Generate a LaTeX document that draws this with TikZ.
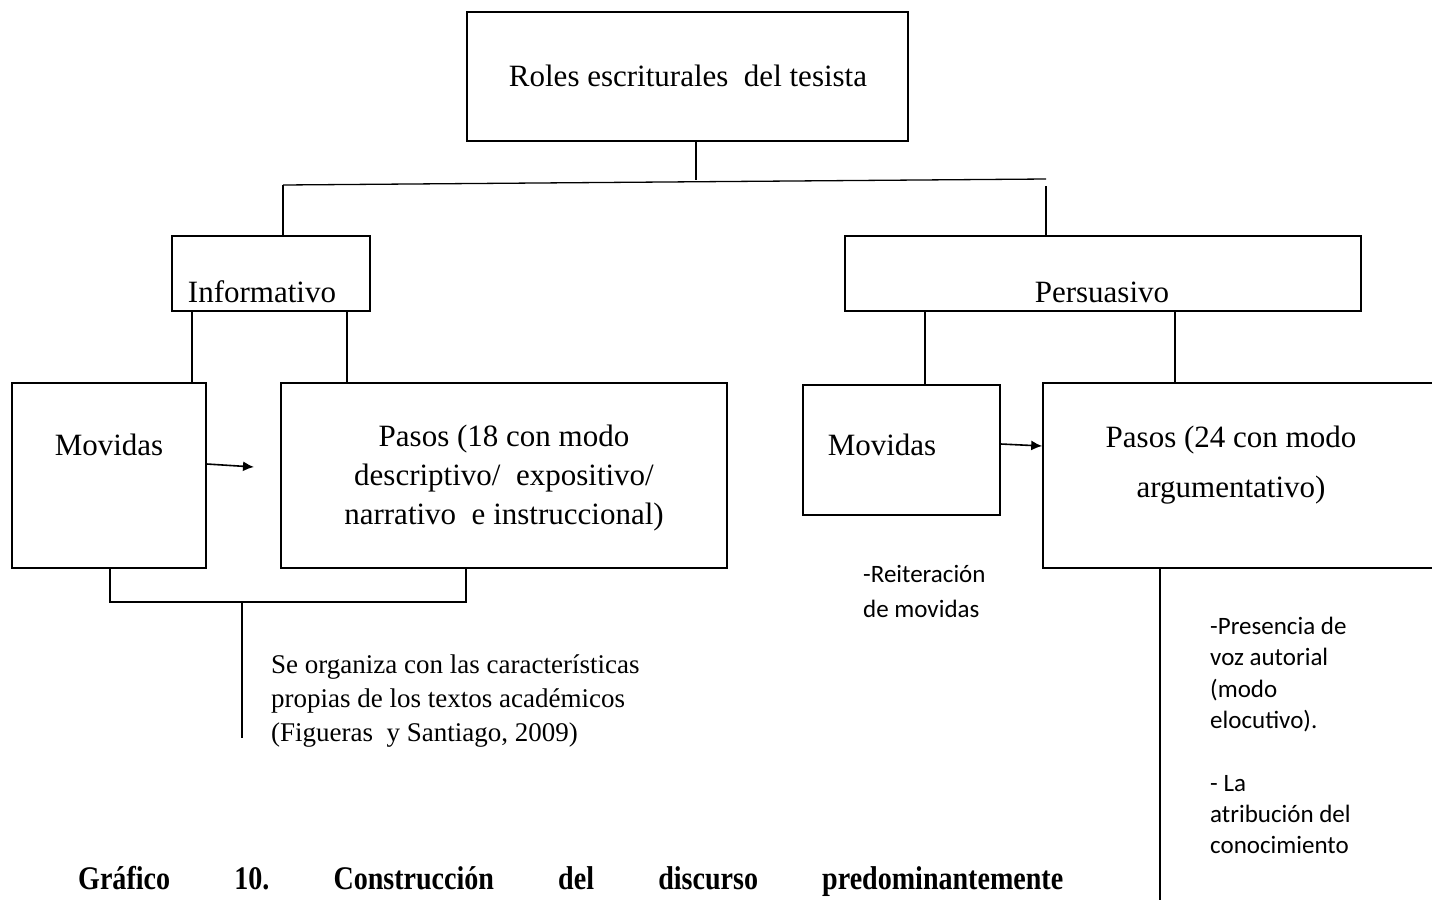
\documentclass[tikz,border=0pt]{standalone}
\usepackage{fontspec}
\setmainfont{Liberation Serif}
\newfontfamily\calib{Carlito}
\newfontfamily\capfont[FakeStretch=0.85]{Liberation Serif}
\usetikzlibrary{arrows.meta,calc}
\tikzset{
  box/.style={draw, line width=1.6pt, rectangle, inner sep=0pt},
  conn/.style={line width=1.3pt},
  arr/.style={line width=1.6pt, -{Latex[length=11pt,width=10pt]}},
  boxtxt/.style={font=\fontsize{31}{39}\selectfont, align=center, inner sep=0pt},
  lowtxt/.style={font=\fontsize{27}{34}\selectfont, align=left, inner sep=0pt, anchor=north west},
  sidetxt/.style={font=\calib\fontsize{25}{31.3}\selectfont, align=left, inner sep=0pt, anchor=north west},
}
\begin{document}
\begin{tikzpicture}[x=1pt,y=-1pt]
\useasboundingbox (0,0) rectangle (1432,900);
\fill[white] (0,0) rectangle (1432,900);

% boxes
\node[box, minimum width=441pt, minimum height=129pt] (top) at (687.5,76.5) {};
\node[boxtxt] (toptxt) at (688,76) {Roles escriturales\ \ del tesista};

\node[box, minimum width=198pt, minimum height=75pt] (inf) at (271,273.5) {};
\node[boxtxt] (inftxt) at (262,292) {Informativo};

\node[box, minimum width=516pt, minimum height=75pt] (per) at (1103,273.5) {};
\node[boxtxt] (pertxt) at (1102,292) {Persuasivo};

\node[box, minimum width=194pt, minimum height=185pt] (movL) at (109,475.5) {};
\node[boxtxt] (movLtxt) at (109,445) {Movidas};

\node[box, minimum width=446pt, minimum height=185pt] (pasL) at (504,475.5) {};
\node[boxtxt] (pasLtxt) at (504,478) {Pasos (18 con modo\\descriptivo/\ \ expositivo/\\narrativo\ \ e instruccional)};

\node[box, minimum width=197pt, minimum height=130pt] (movR) at (901.5,450) {};
\node[boxtxt] (movRtxt) at (882,445) {Movidas};

\node[box, minimum width=420pt, minimum height=185pt] (pasR) at (1253,475.5) {};
\node[boxtxt, font=\fontsize{31}{50}\selectfont] (pasRtxt) at (1231,465) {Pasos (24 con modo\\argumentativo)};

% junction coordinates
\coordinate (jtop) at (696,180);
\coordinate (hl) at (283,185);
\coordinate (hr) at (1046,179);
\coordinate (vr) at (1046,186);
\coordinate (a1) at (192,0);
\coordinate (a2) at (347,0);
\coordinate (b1) at (925,0);
\coordinate (b2) at (1175,0);

\draw[conn] (top.south -| jtop) -- (jtop);
\draw[conn] (hl) -- (hr);
\draw[conn] (hl) -- (hl |- inf.north);
\draw[conn] (vr) -- (vr |- per.north);

\draw[conn] (inf.south -| a1) -- (movL.north -| a1);
\draw[conn] (inf.south -| a2) -- (pasL.north -| a2);
\draw[conn] (per.south -| b1) -- (movR.north -| b1);
\draw[conn] (per.south -| b2) -- (pasR.north -| b2);

% arrows
\coordinate (arrL) at (254,467);
\draw[arr] (movL.east |- 0,464) -- (arrL);
\draw[arr] (movR.east |- 0,444) -- (pasR.west |- 0,446);

% bracket under left boxes
\coordinate (k1) at (110,602);
\coordinate (k2) at (466,602);
\coordinate (k3) at (242,602);
\coordinate (k4) at (242,738);
\draw[conn] (movL.south -| k1) -- (k1) -- (k2) -- (pasL.south -| k2);
\draw[conn] (k3) -- (k4);

\node[lowtxt] (org) at (271,655) {Se organiza con las caracter\'isticas\\propias de los textos\ acad\'emicos\\(Figueras\ \ y Santiago, 2009)};

% right side
\coordinate (r1) at (1160,900);
\draw[conn] (pasR.south -| r1) -- (r1);

\node[sidetxt, font=\calib\fontsize{25}{35}\selectfont] (reit) at (863,565) {-Reiteraci\'on\\de movidas};

\node[sidetxt] (pres) at (1210,617) {-Presencia de\\voz autorial\\(modo\\elocutivo).\\[31.3pt]- La\\atribuci\'on del\\conocimiento};

% caption
\node[font=\capfont\bfseries\fontsize{33}{38}\selectfont, anchor=base west, inner sep=0pt] (cap) at (78,889)
  {\hbox to 985pt{Gr\'afico\hfill 10.\hfill Construcci\'on\hfill del\hfill discurso\hfill predominantemente}};
\end{tikzpicture}
\end{document}
